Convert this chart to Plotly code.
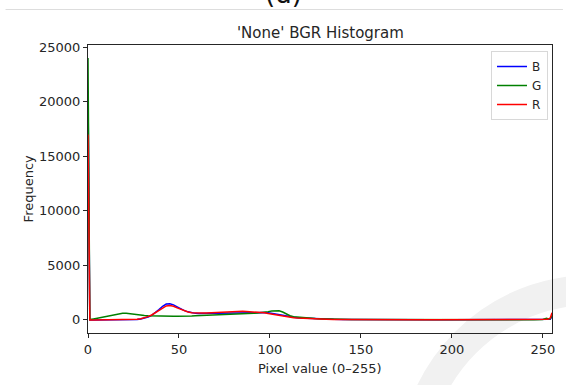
import plotly.graph_objects as go

# Pixel-value bins (sampled)
bins = [0] + list(range(1, 130, 2)) + [131, 135, 140, 145, 150, 160, 170, 180, 190, 200,
                                        210, 220, 230, 240, 245, 250, 252, 253, 254, 255]

blue = [21000,
        0, 0, 0, 0, 0, 0, 0, 0, 2, 4,
        6, 10, 20, 40, 80, 150, 260, 420, 650, 950,
        1250, 1450, 1480, 1380, 1200, 1000, 850, 740, 650, 600,
        580, 570, 580, 590, 600, 610, 620, 600, 620, 640,
        630, 640, 650, 640, 650, 660, 650, 660, 680, 660,
        600, 520, 440, 370, 300, 250, 215, 190, 165, 145,
        125, 110, 95, 85, 75,
        65, 50, 38, 30, 24, 18, 14, 11, 10, 9,
        9, 9, 10, 11, 13, 18, 40, 40, 60, 300]

green = [24000,
         30, 90, 150, 220, 290, 360, 430, 500, 560, 620,
         600, 550, 500, 460, 430, 410, 390, 375, 365, 355,
         360, 350, 340, 330, 340, 330, 340, 350, 360, 380,
         390, 410, 420, 440, 430, 450, 460, 470, 480, 490,
         500, 510, 530, 550, 570, 600, 630, 660, 700, 760,
         820, 860, 840, 720, 520, 380, 300, 260, 225, 195,
         170, 150, 130, 110, 95,
         80, 60, 45, 35, 28, 20, 15, 12, 10, 9,
         9, 9, 10, 12, 15, 30, 150, 80, 100, 400]

red = [17000,
       0, 0, 0, 0, 0, 0, 0, 2, 4, 8,
       14, 22, 35, 60, 110, 190, 300, 450, 650, 900,
       1120, 1280, 1320, 1250, 1100, 950, 820, 720, 660, 630,
       620, 630, 640, 660, 680, 700, 710, 720, 740, 760,
       780, 770, 790, 780, 760, 740, 720, 700, 650, 580,
       520, 450, 380, 320, 270, 230, 200, 175, 152, 133,
       117, 102, 90, 80, 70,
       60, 45, 34, 27, 22, 16, 12, 10, 9, 8,
       8, 8, 9, 10, 12, 20, 60, 80, 150, 650]

series_names = ["B", "G", "R"]
series_colors = ["#0000ff", "#008000", "#ff0000"]
x_ticks = [0, 50, 100, 150, 200, 250]
y_ticks = [0, 5000, 10000, 15000, 20000, 25000]
y_tick_labels = ["0", "5000", "10000", "15000", "20000", "25000"]

FONT = "DejaVu Sans"

fig = go.Figure()
for name, vals, col in zip(series_names, [blue, green, red], series_colors):
    fig.add_trace(go.Scatter(x=bins, y=vals, mode="lines", name=name,
                             line=dict(color=col, width=1.5)))

L, R, T, B = 88, 11, 45, 52
W, H = 566, 385
pw, ph = W - L - R, H - T - B

def px(xp):
    return (xp - L) / pw

def py(yp):
    return (H - B - yp) / ph

fig.update_layout(
    width=W, height=H,
    margin=dict(l=L, r=R, t=T, b=B, pad=0),
    paper_bgcolor="white",
    plot_bgcolor="rgba(0,0,0,0)",
    font=dict(family=FONT, size=13, color="#262626"),
    showlegend=True,
    legend=dict(x=px(551), y=py(51), xanchor="right", yanchor="top",
                bgcolor="white", bordercolor="#d8d8d8", borderwidth=1,
                font=dict(family=FONT, size=12, color="#262626"),
                itemwidth=30, tracegroupgap=0),
    xaxis=dict(range=[0, 255], tickvals=x_ticks, ticks="outside", ticklen=4,
               tickcolor="#262626", showline=True, linecolor="#262626", linewidth=1,
               mirror=True, showgrid=False, zeroline=False,
               tickfont=dict(family=FONT, size=13, color="#262626")),
    yaxis=dict(range=[-1200, 25200], tickvals=y_ticks, ticktext=y_tick_labels,
               ticks="outside", ticklen=4,
               tickcolor="#262626", showline=True, linecolor="#262626", linewidth=1,
               mirror=True, showgrid=False, zeroline=False,
               tickfont=dict(family=FONT, size=13, color="#262626")),
    annotations=[
        dict(text="'None' BGR Histogram", xref="paper", yref="paper",
             x=0.5, y=py(33), xanchor="center", yanchor="middle", showarrow=False,
             font=dict(family=FONT, size=15, color="#262626")),
        dict(text="Pixel value (0–255)", xref="paper", yref="paper",
             x=0.5, y=py(368), xanchor="center", yanchor="middle", showarrow=False,
             font=dict(family=FONT, size=13, color="#262626")),
        dict(text="Frequency", xref="paper", yref="paper", textangle=-90,
             x=px(28), y=0.5, xanchor="center", yanchor="middle", showarrow=False,
             font=dict(family=FONT, size=13, color="#262626")),
        dict(text="(d)", xref="paper", yref="paper",
             x=px(285), y=py(-6), xanchor="center", yanchor="middle", showarrow=False,
             font=dict(family=FONT, size=26, color="#111111")),
    ],
    shapes=[
        dict(type="line", xref="paper", yref="paper", x0=px(5), x1=px(566),
             y0=py(9.5), y1=py(9.5), line=dict(color="#dddddd", width=1), layer="below"),
        dict(type="circle", xref="paper", yref="paper",
             x0=px(415), x1=px(775), y0=py(650), y1=py(290),
             line=dict(color="#f1f1f1", width=30), layer="below"),
    ],
)

fig.write_html("out.html")
